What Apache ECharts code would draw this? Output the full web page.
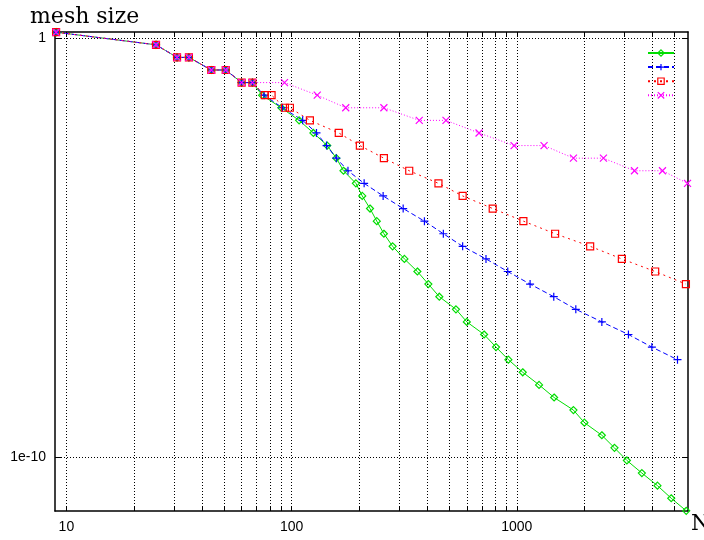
<!DOCTYPE html>
<html>
<head>
<meta charset="utf-8">
<script src="https://cdn.jsdelivr.net/npm/echarts@6/dist/echarts.min.js"></script>
<style>html,body{margin:0;padding:0;background:#fff}#c{width:704px;height:540px}</style>
</head>
<body>
<div id="c"></div>
<script>
// ---- data ----
var greenN = [9, 25, 31, 35, 44, 51, 60, 67, 74, 90, 108, 125, 144, 158, 170, 193, 206, 223, 239, 257, 281, 317, 362, 405, 453, 537, 600, 716, 809, 918, 1063, 1256, 1465, 1785, 1997, 2387, 2716, 3083, 3594, 4215, 4851, 5657];
var greenH = [1.414, 0.7071, 0.3536, 0.3536, 0.1768, 0.1768, 0.08839, 0.08839, 0.04419, 0.0221, 0.01105, 0.005524, 0.002762, 0.001381, 6.905e-4, 3.453e-4, 1.726e-4, 8.632e-5, 4.316e-5, 2.158e-5, 1.079e-5, 5.395e-6, 2.697e-6, 1.349e-6, 6.743e-7, 3.372e-7, 1.686e-7, 8.429e-8, 4.215e-8, 2.107e-8, 1.054e-8, 5.268e-9, 2.634e-9, 1.317e-9, 6.585e-10, 3.293e-10, 1.646e-10, 8.231e-11, 4.116e-11, 2.058e-11, 1.029e-11, 5.145e-12];

var blueN = [9, 25, 31, 35, 44, 51, 60, 67, 75.5, 91, 112, 129, 143, 158, 178, 210, 255, 313, 389, 472, 575, 730, 912, 1146, 1460, 1829, 2387, 3133, 3981, 5173];
var blueH = [1.414, 0.7071, 0.3536, 0.3536, 0.1768, 0.1768, 0.08839, 0.08839, 0.04419, 0.0221, 0.01105, 0.005524, 0.002762, 0.001381, 6.905e-4, 3.453e-4, 1.726e-4, 8.632e-5, 4.316e-5, 2.158e-5, 1.079e-5, 5.395e-6, 2.697e-6, 1.349e-6, 6.743e-7, 3.372e-7, 1.686e-7, 8.429e-8, 4.215e-8, 2.107e-8];

var redN = [9, 25, 31, 35, 44, 51, 60, 67, 76, 81.5, 93.4, 98.3, 120.6, 162, 201, 257, 333, 449, 575, 782, 1070, 1480, 2118, 2929, 4118, 5639];
var redH = [1.414, 0.7071, 0.3536, 0.3536, 0.1768, 0.1768, 0.08839, 0.08839, 0.04419, 0.04419, 0.0221, 0.0221, 0.01105, 0.005524, 0.002762, 0.001381, 6.905e-4, 3.453e-4, 1.726e-4, 8.632e-5, 4.316e-5, 2.158e-5, 1.079e-5, 5.395e-6, 2.697e-6, 1.349e-6];

var magentaN = [9, 25, 31, 35, 44, 51, 60, 67, 93, 130, 174, 257, 369, 485, 680, 973, 1322, 1785, 2426, 3332, 4437, 5732];
var magentaH = [1.414, 0.7071, 0.3536, 0.3536, 0.1768, 0.1768, 0.08839, 0.08839, 0.08839, 0.04419, 0.0221, 0.0221, 0.01105, 0.01105, 0.005524, 0.002762, 0.002762, 0.001381, 0.001381, 6.905e-4, 6.905e-4, 3.453e-4];

var xTickValues = [10, 20, 30, 40, 50, 60, 70, 80, 90, 100, 200, 300, 400, 500, 600, 700, 800, 900, 1000, 2000, 3000, 4000, 5000];
var xLabelValues = [10, 100, 1000];
var xLabelTexts = ['10', '100', '1000'];
var yTickValues = [1e-10, 1];
var yLabelTexts = ['1e-10', '1'];

// ---- chart ----
function pairs(xs, ys) { return xs.map(function (x, i) { return [x, ys[i]]; }); }
function labelFor(values, texts) {
  return function (v) {
    for (var i = 0; i < values.length; i++) {
      if (Math.abs(Math.log(v) - Math.log(values[i])) < 1e-6) return texts[i];
    }
    return '';
  };
}
var XMIN = 8.9, XMAX = 5760, YMIN = 5.1e-12, YMAX = 1.43;
var gridLine = { show: true, lineStyle: { color: '#000', width: 1, type: [1, 2] } };
var colors = { g: '#00dd00', b: '#0000ff', r: '#ff0000', m: '#ff00ff' };

function mkSeries(name, data, symbol, size, dash) {
  var color = colors[name];
  return {
    name: name, type: 'line', data: data,
    symbol: symbol, symbolSize: size, showAllSymbol: true,
    lineStyle: { color: color, width: 1, type: dash },
    itemStyle: { color: 'transparent', borderColor: color, borderWidth: 1.2 },
    emphasis: { disabled: true },
    z: 3
  };
}
function legendItem(name) {
  return { name: name, itemStyle: { color: 'transparent', borderColor: colors[name], borderWidth: 1.2 } };
}

var chart = echarts.init(document.getElementById('c'), null, { renderer: 'canvas' });
chart.setOption({
  animation: false,
  backgroundColor: '#fff',
  title: {
    text: 'mesh size', left: 25, top: 1,
    textStyle: { fontFamily: 'DejaVu Serif', fontSize: 22, fontWeight: 'normal', color: '#000' }
  },
  legend: {
    orient: 'vertical', left: 647, top: 49, padding: 0,
    itemWidth: 26, itemHeight: 8, itemGap: 6.3,
    formatter: function () { return ''; },
    selectedMode: false,
    data: [legendItem('g'), legendItem('b'), legendItem('r'), legendItem('m')]
  },
  grid: { left: 55, right: 16, top: 32, bottom: 29, containLabel: false, outerBoundsMode: 'none' },
  xAxis: [{
    type: 'log', logBase: 10, min: XMIN, max: XMAX,
    name: 'N', nameLocation: 'end', nameGap: 3,
    nameTextStyle: { fontFamily: 'DejaVu Serif', fontSize: 22, color: '#000', verticalAlign: 'top', align: 'left', padding: [2, 0, 0, 0] },
    axisLine: { show: true, lineStyle: { color: '#000', width: 1.5 } },
    axisTick: { show: true, inside: true, length: 5, customValues: xTickValues, lineStyle: { color: '#000' } },
    axisLabel: { customValues: xLabelValues, formatter: labelFor(xLabelValues, xLabelTexts), fontFamily: 'Liberation Sans', fontSize: 14, color: '#000', margin: 9 },
    splitLine: gridLine,
    minorTick: { show: false }, minorSplitLine: { show: false }
  }, {
    type: 'log', logBase: 10, min: XMIN, max: XMAX, position: 'top',
    axisLine: { show: true, lineStyle: { color: '#000', width: 1.5 } },
    axisTick: { show: true, inside: true, length: 5, customValues: xTickValues, lineStyle: { color: '#000' } },
    axisLabel: { show: false }, splitLine: { show: false }
  }],
  yAxis: [{
    type: 'log', logBase: 10, min: YMIN, max: YMAX,
    axisLine: { show: true, lineStyle: { color: '#000', width: 1.5 } },
    axisTick: { show: true, inside: true, length: 6, customValues: yTickValues, lineStyle: { color: '#000' } },
    axisLabel: { customValues: yTickValues, formatter: labelFor(yTickValues, yLabelTexts), fontFamily: 'Liberation Sans', fontSize: 14, color: '#000', margin: 9 },
    splitLine: gridLine
  }, {
    type: 'log', logBase: 10, min: YMIN, max: YMAX, position: 'right',
    axisLine: { show: true, lineStyle: { color: '#000', width: 1.5 } },
    axisTick: { show: true, inside: true, length: 6, customValues: yTickValues, lineStyle: { color: '#000' } },
    axisLabel: { show: false }, splitLine: { show: false }
  }],
  series: [
    mkSeries('g', pairs(greenN, greenH), 'path://M5,0L10,5L5,10L0,5Z', 7, 'solid'),
    mkSeries('b', pairs(blueN, blueH), 'path://M0,5L10,5M5,0L5,10', 8, [5, 3]),
    mkSeries('r', pairs(redN, redH), 'rect', 7, [2, 4]),
    mkSeries('m', pairs(magentaN, magentaH), 'path://M0,0L10,10M10,0L0,10', 7, [1, 2])
  ]
});
</script>
</body>
</html>
